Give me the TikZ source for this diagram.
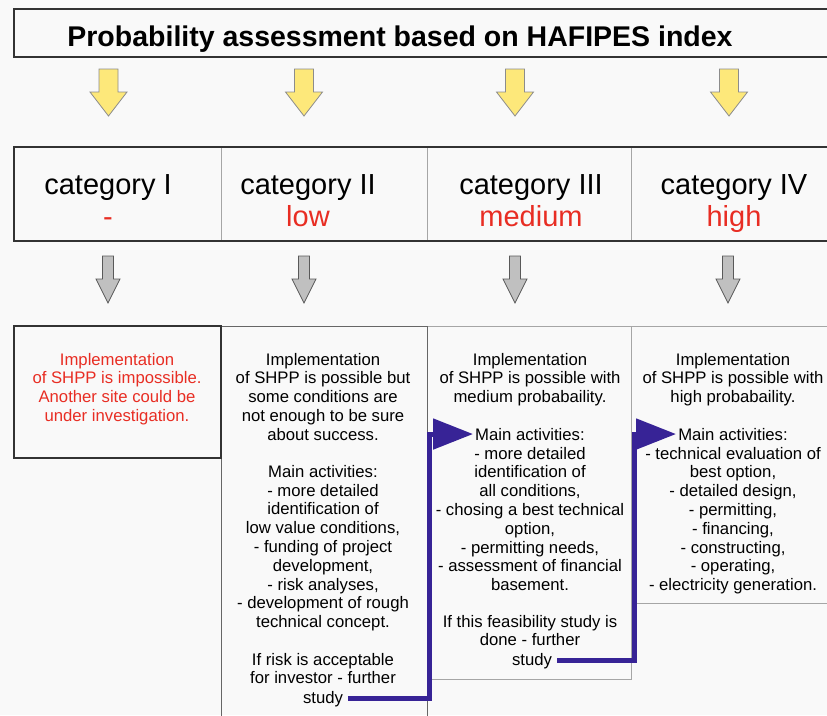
\documentclass[tikz,border=0pt]{standalone}
\usepackage{fontspec}
\setmainfont{Liberation Sans}
\usetikzlibrary{fit}
\usetikzlibrary{positioning}
\usetikzlibrary{arrows.meta}

\definecolor{catred}{RGB}{232,45,35}
\definecolor{flowblue}{RGB}{55,35,150}
\definecolor{arrowyellow}{RGB}{253,232,122}
\definecolor{arrowgray}{RGB}{192,192,192}
\definecolor{paper}{RGB}{249,249,249}

\begin{document}
\begin{tikzpicture}[x=1pt, y=-1pt,
  frame/.style={draw=black!80, line width=1.2pt, inner sep=0pt},
  cell/.style={draw=black!35, line width=1pt, inner sep=0pt},
  body/.style={font=\fontsize{16.7}{18.8}\selectfont, align=center, inner sep=0pt, anchor=base},
  catlabel/.style={font=\fontsize{29}{32}\selectfont, align=center, inner sep=0pt, anchor=base},
  yarrow/.style={draw=black!45, fill=arrowyellow, line width=0.8pt, line join=miter},
  garrow/.style={draw=black!65, fill=arrowgray, line width=0.8pt, line join=miter},
  flow/.style={draw=flowblue, line width=5pt, line join=miter,
    -{Triangle[length=40pt, width=30pt]}, shorten <=5pt, shorten >=2pt},
]

\fill[paper] (0,0) rectangle (827,715);
\useasboundingbox (0,0) rectangle (827,715);

\node (titlebox) [frame, fit={(14,9) (829,57)}] {};
\node (title) [font=\bfseries\fontsize{28.5}{30}\selectfont, inner sep=0pt, anchor=base]
  at (400,46) {Probability assessment based on HAFIPES index};

% yellow arrows
\foreach \x in {108.5, 304, 515, 729} {
  \draw[yarrow] (\x-9.5,69) -- (\x+9.5,69) -- (\x+9.5,92) -- (\x+18.5,92)
    -- (\x,116) -- (\x-18.5,92) -- (\x-9.5,92) -- cycle;
}

\foreach \i/\xa/\xb in {1/14/221, 2/221/427, 3/427/631, 4/631/829} {
  \node (cat\i) [cell, fit={(\xa,147) (\xb,241)}] {};
}
\node (catrow) [frame, fit={(14,147) (829,241)}] {};

\node (lbl1) [catlabel] at (108,226) {category I\\\textcolor{catred}{-}};
\node (lbl2) [catlabel] at (308,226) {category II\\\textcolor{catred}{low}};
\node (lbl3) [catlabel] at (531,226) {category III\\\textcolor{catred}{medium}};
\node (lbl4) [catlabel] at (734,226) {category IV\\\textcolor{catred}{high}};

% gray arrows
\foreach \x in {108, 304, 515, 728} {
  \draw[garrow] (\x-5.5,256) -- (\x+5.5,256) -- (\x+5.5,279) -- (\x+12,279)
    -- (\x,303) -- (\x-12,279) -- (\x-5.5,279) -- cycle;
}

\node (box4) [cell, fit={(631,326) (829,603)}] {};
\node (box3) [cell, fit={(427,326) (631,679)}] {};
\node (box2) [draw=black!60, line width=1pt, inner sep=0pt, fit={(221,326) (427,720)}] {};
\node (box1) [frame, fit={(14,326) (221,458)}] {};

\node (note1) [body, text=catred] at (117,421.4)
  {Implementation\\of SHPP is impossible.\\Another site could be\\under investigation.};

\node (intro2) [body] at (323,440.2)
  {Implementation\\of SHPP is possible but\\some conditions are\\not enough to be sure\\about success.};
\node (head2) [body] at (323,477) {Main activities:};
\node (list2) [body] at (323,627.6)
  {- more detailed\\identification of\\low value conditions,\\- funding of project\\development,\\- risk analyses,\\- development of rough\\technical concept.};
\node (close2) [body] at (323,683.8) {If risk is acceptable\\for investor - further};
\node (study2) [body] at (323,703) {study};

\node (intro3) [body] at (530,402.6)
  {Implementation\\of SHPP is possible with\\medium probabaility.};
\node (head3) [body] at (530,440) {Main activities:};
\node (list3) [body] at (530,590.6)
  {- more detailed\\identification of\\all conditions,\\- chosing a best technical\\option,\\- permitting needs,\\- assessment of financial\\basement.};
\node (close3) [body] at (530,645.8) {If this feasibility study is\\done - further};
\node (study3) [body] at (532,665) {study};

\node (intro4) [body] at (733,402.6)
  {Implementation\\of SHPP is possible with\\high probabaility.};
\node (head4) [body] at (733,440) {Main activities:};
\node (list4) [body] at (733,590.6)
  {- technical evaluation of\\best option,\\- detailed design,\\- permitting,\\- financing,\\- constructing,\\- operating,\\- electricity generation.};

\coordinate (seam23) at (429,0);
\coordinate (seam34) at (634,0);
\draw[flow] (study2.east) -| (seam23 |- head3.west) -- (head3.west);
\draw[flow] (study3.east) -| (seam34 |- head4.west) -- (head4.west);
\end{tikzpicture}
\end{document}
